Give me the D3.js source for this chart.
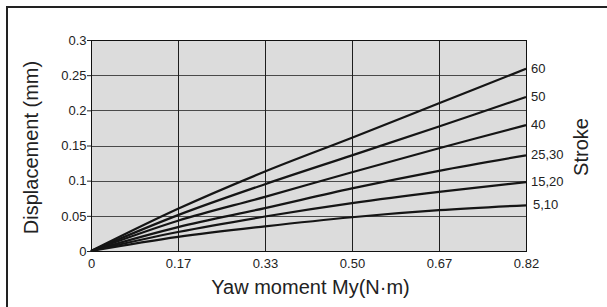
<!DOCTYPE html>
<html>
<head>
<meta charset="utf-8">
<script src="https://cdn.jsdelivr.net/npm/d3@7"></script>
<style>
  body { margin: 0; background: #fff; }
  svg { display: block; font-family: "Liberation Sans", Arial, sans-serif; }
</style>
</head>
<body>
<svg id="chart" width="607" height="307"></svg>
<script>
// x tick labels (evenly spaced on the chart)
var xTicks = ["0", "0.17", "0.33", "0.50", "0.67", "0.82"];
var yTicks = [0, 0.05, 0.1, 0.15, 0.2, 0.25, 0.3];

// stroke series, displacement (mm) read at each x tick
var strokes = ["60", "50", "40", "25,30", "15,20", "5,10"];
var s60 = [0, 0.060, 0.113, 0.161, 0.210, 0.259];
var s50 = [0, 0.051, 0.095, 0.136, 0.177, 0.219];
var s40 = [0, 0.043, 0.077, 0.112, 0.146, 0.179];
var s2530 = [0, 0.034, 0.061, 0.089, 0.114, 0.136];
var s1520 = [0, 0.027, 0.049, 0.068, 0.084, 0.098];
var s510 = [0, 0.020, 0.035, 0.048, 0.058, 0.065];
var series = [s60, s50, s40, s2530, s1520, s510];

var svg = d3.select("#chart");
var margin = {left: 91, top: 40, right: 81, bottom: 56};
var width = 607 - margin.left - margin.right,
    height = 307 - margin.top - margin.bottom;

// outer frame (only top and left edges fall inside the picture)
svg.append("rect")
    .attr("x", 7).attr("y", 7)
    .attr("width", 620).attr("height", 320)
    .attr("fill", "none")
    .attr("stroke", "#222")
    .attr("stroke-width", 2);

var g = svg.append("g")
    .attr("transform", "translate(" + margin.left + "," + margin.top + ")");

var x = d3.scalePoint().domain(xTicks).range([0, width]);
var y = d3.scaleLinear().domain([0, 0.3]).range([height, 0]);

g.append("rect")
    .attr("width", width).attr("height", height)
    .attr("fill", "#dcdcdc");

// grid
g.selectAll(".hgrid").data(yTicks).enter().append("line")
    .attr("x1", 0).attr("x2", width)
    .attr("y1", function(d) { return Math.round(y(d)) + 0.5; })
    .attr("y2", function(d) { return Math.round(y(d)) + 0.5; })
    .attr("stroke", "#4a4a4a").attr("stroke-width", 1);

g.selectAll(".vgrid").data(xTicks).enter().append("line")
    .attr("y1", 0).attr("y2", height)
    .attr("x1", function(d) { return Math.round(x(d)) + 0.5; })
    .attr("x2", function(d) { return Math.round(x(d)) + 0.5; })
    .attr("stroke", "#1e1e1e").attr("stroke-width", 1);

g.append("rect")
    .attr("x", 0.5).attr("y", 0.5)
    .attr("width", width).attr("height", height)
    .attr("fill", "none").attr("stroke", "#111");

// axes
var yAxis = g.append("g")
    .call(d3.axisLeft(y).tickValues(yTicks).tickSize(4).tickSizeOuter(0)
        .tickFormat(function(d) { return d3.format("")(+d.toFixed(2)); }));
var xAxis = g.append("g")
    .attr("transform", "translate(0," + height + ")")
    .call(d3.axisBottom(x).tickSize(0).tickPadding(8));

[xAxis, yAxis].forEach(function(a) {
    a.select(".domain").remove();
    a.selectAll("line").attr("stroke", "#222");
    a.selectAll("text").attr("font-size", 13).attr("fill", "#222")
        .attr("font-family", "'Liberation Sans', Arial, sans-serif");
});
yAxis.selectAll("text").attr("x", -4.5);

// curves
var line = d3.line()
    .x(function(d, i) { return x(xTicks[i]); })
    .y(function(d) { return y(d); })
    .curve(d3.curveCatmullRom);

g.selectAll(".series").data(series).enter().append("path")
    .attr("d", line)
    .attr("fill", "none")
    .attr("stroke", "#151515")
    .attr("stroke-width", 2.2);

// stroke labels
g.selectAll(".slabel").data(series).enter().append("text")
    .attr("x", function(d, i) { return width + (i === 5 ? 7 : 5); })
    .attr("y", function(d) { return y(d[d.length - 1]); })
    .attr("dy", "0.3em")
    .attr("font-size", 13)
    .attr("fill", "#222")
    .text(function(d, i) { return strokes[i]; });

// titles
svg.append("text")
    .attr("x", margin.left + width / 2 + 2)
    .attr("y", 294)
    .attr("text-anchor", "middle")
    .attr("font-size", 20)
    .attr("fill", "#222")
    .text("Yaw moment My(N\u00b7m)");

svg.append("text")
    .attr("transform", "translate(38," + (margin.top + height / 2 + 2) + ") rotate(-90)")
    .attr("text-anchor", "middle")
    .attr("font-size", 20)
    .attr("fill", "#222")
    .text("Displacement (mm)");

svg.append("text")
    .attr("transform", "translate(588,147) rotate(-90)")
    .attr("text-anchor", "middle")
    .attr("font-size", 20)
    .attr("fill", "#222")
    .text("Stroke");
</script>
</body>
</html>
